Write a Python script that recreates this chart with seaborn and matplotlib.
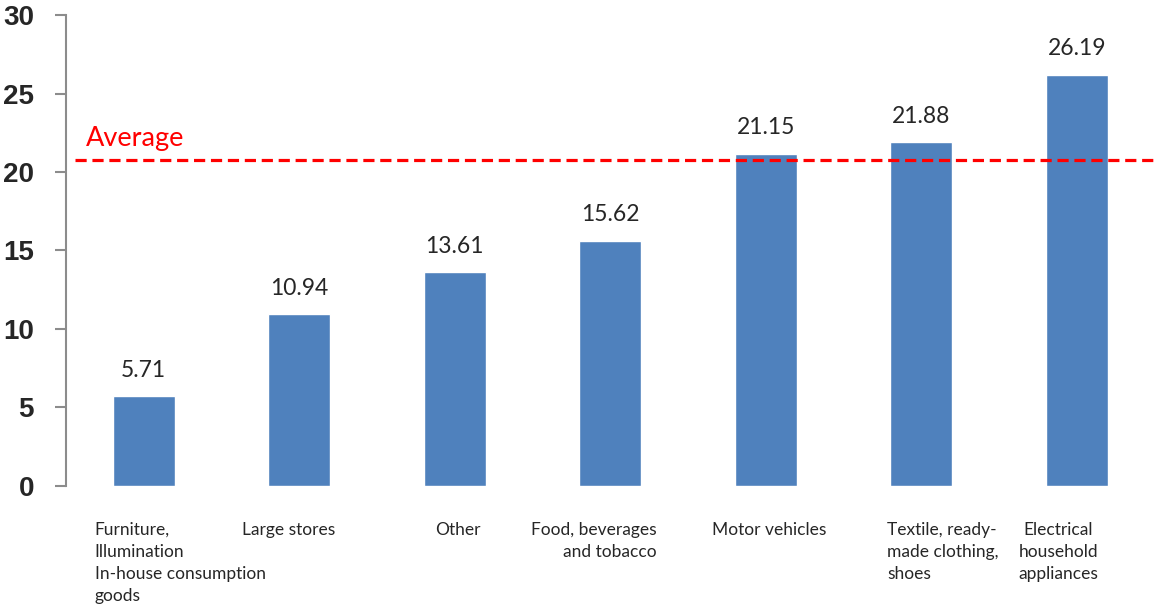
import pandas as pd
import matplotlib
matplotlib.use("Agg")
import matplotlib.pyplot as plt
import matplotlib.transforms as mtransforms
import seaborn as sns

# Chart data
categories = [
    "Furniture,\nIllumination\nIn-house consumption\ngoods",
    "Large stores",
    "Other",
    "Food, beverages\nand tobacco",
    "Motor vehicles",
    "Textile, ready-\nmade clothing,\nshoes",
    "Electrical\nhousehold\nappliances",
]
values = [5.71, 10.94, 13.61, 15.62, 21.15, 21.88, 26.19]
average = 20.75
y_ticks = [0, 5, 10, 15, 20, 25, 30]


def draw_chart():
    sns.set_style("white")
    plt.rcParams["font.family"] = ["Lato", "DejaVu Sans"]

    df = pd.DataFrame({"category": categories, "value": values})

    fig = plt.figure(figsize=(11.57, 6.08), dpi=100)
    ax = fig.add_axes([0.057, 0.2007, 0.941, 0.7746])

    sns.barplot(data=df, x="category", y="value", color="#4F81BD",
                width=0.4, saturation=1, ax=ax)

    ax.set_xlim(-0.5, len(categories) - 0.5)
    ax.set_ylim(0, 30)
    ax.set_yticks(y_ticks)
    ax.set_yticklabels([str(t) for t in y_ticks], fontsize=20, fontweight="bold",
                       family=["Liberation Sans", "DejaVu Sans"])
    ax.set_xticks([])
    ax.set(xlabel="", ylabel="")

    for side in ["top", "right", "bottom"]:
        ax.spines[side].set_visible(False)
    ax.spines["left"].set_color("#8c8c8c")
    ax.spines["left"].set_linewidth(1.5)
    ax.tick_params(axis="y", which="major", left=True, length=8, width=1.5,
                   color="#8c8c8c", pad=15)

    # value labels above the bars
    for i, v in enumerate(values):
        ax.text(i, v + 1.0, f"{v:.2f}", ha="center", va="bottom", fontsize=16.5)

    # average line
    ax.axhline(average, xmin=0.008, xmax=1.0, color="#FF0000", linestyle=(0, (3.5, 1.8)),
               linewidth=2.3, clip_on=False)
    ax.text(-0.37, average + 0.6, "Average", color="#FF0000", fontsize=19.5,
            ha="left", va="bottom")

    # category labels under the axis
    trans = mtransforms.blended_transform_factory(ax.transData, ax.transAxes)
    offsets = [-0.315, -0.37, 0.02, 0.3, 0.02, -0.22, -0.12]
    aligns = ["left", "left", "center", "right", "center", "left", "center"]
    for i, (lab, dx, ha) in enumerate(zip(categories, offsets, aligns)):
        ax.text(i + dx, -0.076, lab, transform=trans, ha=ha, va="top",
                multialignment=ha, fontsize=12.5, linespacing=1.47)

    fig.savefig("out.png", dpi=100)


if __name__ == "__main__":
    draw_chart()
